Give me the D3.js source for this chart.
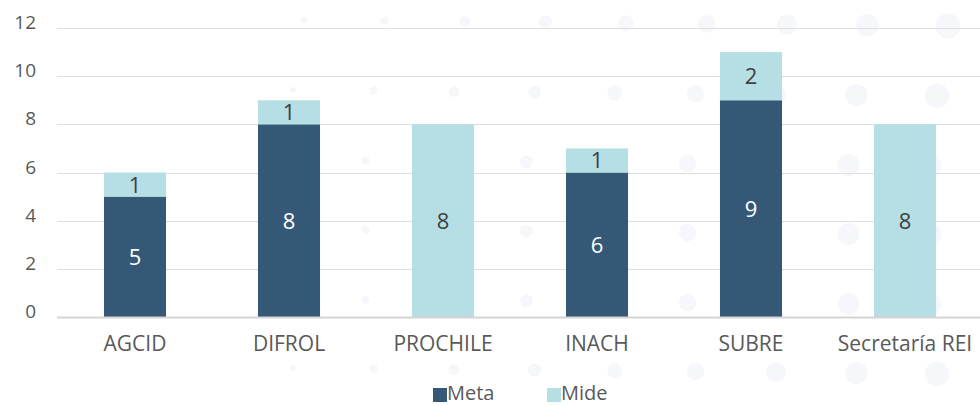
<!DOCTYPE html>
<html>
<head>
<meta charset="utf-8">
<script src="https://cdn.jsdelivr.net/npm/d3@7"></script>
<style>
  body { margin: 0; background: #fff; }
  svg { display: block; font-family: "Open Sans", "Noto Sans", sans-serif; }
</style>
</head>
<body>
<div id="chart"></div>
<script>
// datos
const categories = ['AGCID', 'DIFROL', 'PROCHILE', 'INACH', 'SUBRE', 'Secretaría REI'];
const meta = [5, 8, 0, 6, 9, 0];
const mide = [1, 1, 8, 1, 2, 8];
const seriesNames = ['Meta', 'Mide'];
const yTicks = [0, 2, 4, 6, 8, 10, 12];

const width = 980, height = 405;
const colors = { Meta: '#355876', Mide: '#b6dfe5' };

const svg = d3.select('#chart')
  .append('svg')
  .attr('width', width)
  .attr('height', height);

// fondo decorativo de puntos
const decor = svg.append('g').attr('fill', '#f6f7fb');
const rowsY = [20, 90, 160, 229, 299, 368];
rowsY.forEach((ry, i) => {
  const x0 = i === 0 ? 304 : (i === 1 || i === 5 ? 293 : 285);
  for (let x = x0; x < width + 15; x += 80.5) {
    decor.append('circle')
      .attr('cx', x)
      .attr('cy', ry + (x - 300) / 110)
      .attr('r', 3 + (x - 290) / 70);
  }
});

const x = d3.scaleBand()
  .domain(categories)
  .range([58, 982])
  .paddingInner(0.597)
  .paddingOuter(0.2985);

const y = d3.scaleLinear()
  .domain([0, 12])
  .range([317, 28]);

// líneas de la grilla
svg.append('g')
  .selectAll('line')
  .data(yTicks.filter(d => d > 0))
  .enter().append('line')
  .attr('x1', 57).attr('x2', width)
  .attr('y1', d => Math.round(y(d)) + 0.5)
  .attr('y2', d => Math.round(y(d)) + 0.5)
  .attr('stroke', '#dedede')
  .attr('stroke-width', 1);

// etiquetas eje y
svg.append('g')
  .selectAll('text')
  .data(yTicks)
  .enter().append('text')
  .attr('x', 36)
  .attr('y', d => y(d) + 1)
  .attr('text-anchor', 'end')
  .attr('fill', '#595959')
  .style('font-size', '19px')
  .text(d => d);

// barras apiladas
const table = categories.map((c, i) => ({ cat: c, Meta: meta[i], Mide: mide[i] }));
const stacked = d3.stack().keys(seriesNames)(table);

const layers = svg.append('g')
  .selectAll('g')
  .data(stacked)
  .enter().append('g')
  .attr('fill', d => colors[d.key]);

layers.selectAll('rect')
  .data(d => d.filter(s => s[1] - s[0] > 0))
  .enter().append('rect')
  .attr('x', d => x(d.data.cat))
  .attr('width', x.bandwidth())
  .attr('y', d => y(d[1]))
  .attr('height', d => y(d[0]) - y(d[1]));

// etiquetas de datos
stacked.forEach(layer => {
  svg.append('g')
    .selectAll('text')
    .data(layer.filter(s => s[1] - s[0] > 0))
    .enter().append('text')
    .attr('x', d => x(d.data.cat) + x.bandwidth() / 2)
    .attr('y', d => (y(d[0]) + y(d[1])) / 2 + 8)
    .attr('text-anchor', 'middle')
    .attr('fill', layer.key === 'Meta' ? '#ffffff' : '#404040')
    .style('font-size', '22px')
    .text(d => d[1] - d[0]);
});

// eje x
svg.append('line')
  .attr('x1', 57).attr('x2', width)
  .attr('y1', 317.5).attr('y2', 317.5)
  .attr('stroke', '#d4d4d4')
  .attr('stroke-width', 2);

svg.append('g')
  .selectAll('text')
  .data(categories)
  .enter().append('text')
  .attr('x', d => x(d) + x.bandwidth() / 2)
  .attr('y', 351)
  .attr('text-anchor', 'middle')
  .attr('fill', '#595959')
  .style('font-size', '21px')
  .text(d => d);

// leyenda
const legend = svg.append('g');
const legendX = [433, 547];
seriesNames.forEach((name, i) => {
  legend.append('rect')
    .attr('x', legendX[i]).attr('y', 388)
    .attr('width', 14).attr('height', 14)
    .attr('fill', colors[name]);
  legend.append('text')
    .attr('x', legendX[i] + 14)
    .attr('y', 400)
    .attr('fill', '#595959')
    .style('font-size', '20px')
    .text(name);
});
</script>
</body>
</html>
